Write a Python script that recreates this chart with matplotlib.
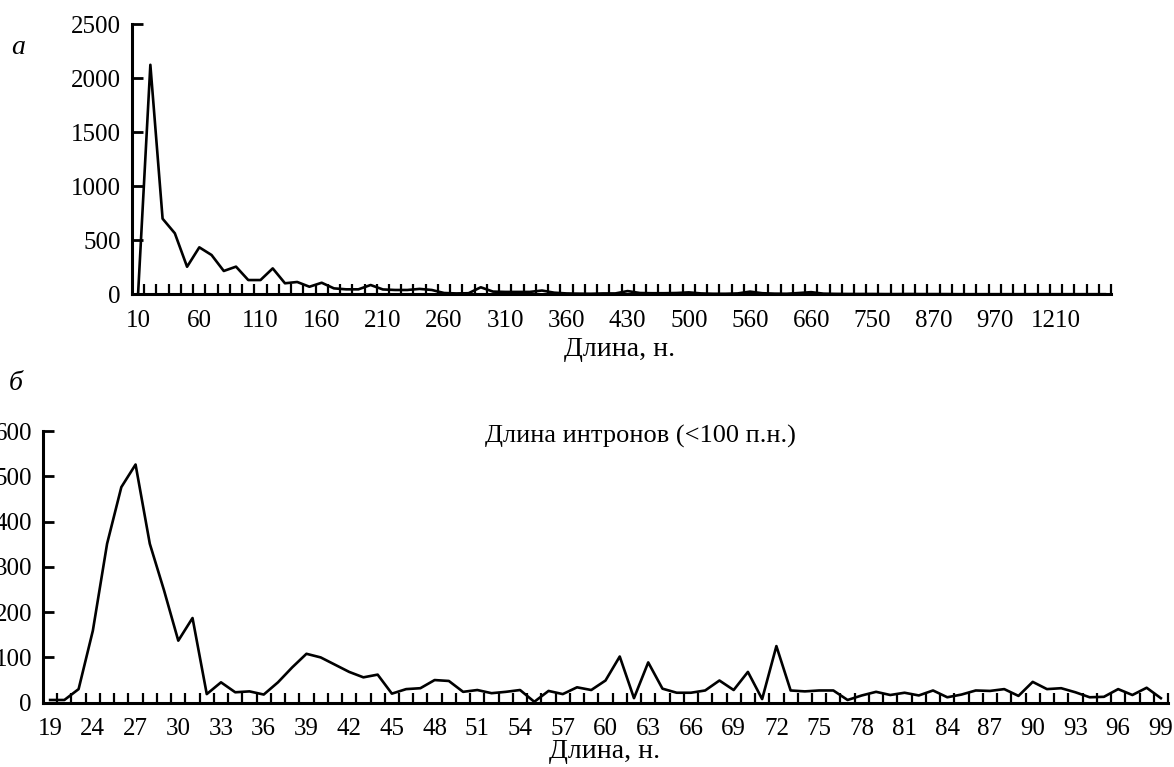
import matplotlib
matplotlib.use('Agg')
import matplotlib.pyplot as plt
from matplotlib.ticker import FixedLocator, NullFormatter

plt.rcParams['font.family'] = ['Liberation Serif', 'DejaVu Serif']
plt.rcParams['font.size'] = 18

# panel a: all intron lengths (bins, nt)
len_a = [10, 20, 30, 40, 50, 60, 70, 80, 90, 100,
         110, 120, 130, 140, 150, 160, 170, 180, 190, 200,
         210, 220, 230, 240, 250, 260, 270, 280, 290, 300,
         310, 320, 330, 340, 350, 360, 370, 380, 400, 410,
         430, 440, 450, 470, 480, 500, 510, 520, 530, 540,
         560, 570, 590, 610, 630, 660, 670, 690, 710, 730,
         750, 770, 790, 820, 840, 870, 890, 910, 930, 950,
         970, 1000, 1050, 1100, 1150, 1210, 1260, 1400, 1600, 2000]
count_a = [10, 2125, 700, 565, 255, 435, 364, 216, 256, 132,
           132, 240, 102, 114, 70, 107, 55, 46, 46, 86,
           45, 40, 40, 50, 40, 12, 8, 10, 65, 25,
           22, 22, 22, 35, 15, 8, 6, 5, 8, 8,
           30, 12, 10, 10, 12, 18, 8, 5, 5, 8,
           25, 10, 6, 5, 12, 20, 6, 4, 3, 3,
           3, 2, 2, 3, 2, 2, 2, 1, 1, 1,
           1, 1, 1, 1, 1, 1, 1, 1, 1, 1]

# panel b: introns shorter than 100 nt
len_b = [19, 21, 23] + list(range(24, 100))
count_b = [6, 6, 30, 159, 351, 476, 526, 351, 248, 137,
           187, 19, 45, 23, 25, 18, 45, 78, 108, 100,
           84, 68, 56, 62, 20, 30, 32, 50, 48, 24,
           28, 21, 24, 28, 2, 26, 19, 34, 28, 49,
           102, 10, 89, 31, 22, 22, 27, 49, 28, 68,
           8, 125, 27, 25, 27, 27, 6, 16, 24, 17,
           22, 16, 27, 12, 18, 27, 26, 30, 15, 46,
           30, 32, 23, 12, 13, 30, 17, 33, 10]

fig = plt.figure(figsize=(11.74, 7.67), dpi=100)
W, H = 1174.0, 767.0


def style_axes(ax, n, step, labels):
    for s in ['top', 'right']:
        ax.spines[s].set_visible(False)
    for s in ['left', 'bottom']:
        ax.spines[s].set_linewidth(2.2)
    ax.set_xlim(-0.5, n - 0.5)
    pos = list(range(0, n, step))
    ax.xaxis.set_major_locator(FixedLocator(pos))
    ax.set_xticklabels([str(labels[i]) for i in pos])
    ax.xaxis.set_minor_locator(FixedLocator([i + 0.5 for i in range(n)]))
    ax.xaxis.set_minor_formatter(NullFormatter())
    ax.tick_params(axis='x', which='major', length=0, pad=11)
    ax.tick_params(axis='x', which='minor', direction='in', length=7, width=1.6)
    ax.tick_params(axis='y', direction='in', length=8, width=2, pad=8)


# top chart
ax1 = fig.add_axes([132 / W, 1 - 294.3 / H, (1111 - 132) / W, (294.3 - 24.3) / H])
ax1.plot(range(len(count_a)), count_a, color='black', lw=1.9)
ax1.set_ylim(0, 2500)
ax1.set_yticks([0, 500, 1000, 1500, 2000, 2500])
style_axes(ax1, len(len_a), 5, len_a)
fig.text(620 / W, 1 - 350 / H, 'Длина, н.', ha='center', va='center', fontsize=20)
fig.text(18 / W, 1 - 47 / H, 'а', ha='center', va='center', style='italic', fontsize=20)

# bottom chart
ax2 = fig.add_axes([43 / W, 1 - 702.7 / H, (1168 - 43) / W, (702.7 - 431) / H])
ax2.plot(range(len(count_b)), count_b, color='black', lw=1.9)
ax2.set_ylim(0, 600)
ax2.set_yticks([0, 100, 200, 300, 400, 500, 600])
style_axes(ax2, len(len_b), 3, len_b)
ax2.text(0.531, 0.98, 'Длина интронов (<100 п.н.)', transform=ax2.transAxes,
         ha='center', va='center', fontsize=19)
fig.text(605 / W, 1 - 751 / H, 'Длина, н.', ha='center', va='center', fontsize=20)
fig.text(16 / W, 1 - 383 / H, 'б', ha='center', va='center', style='italic', fontsize=20)

fig.savefig('out.png', dpi=100)
